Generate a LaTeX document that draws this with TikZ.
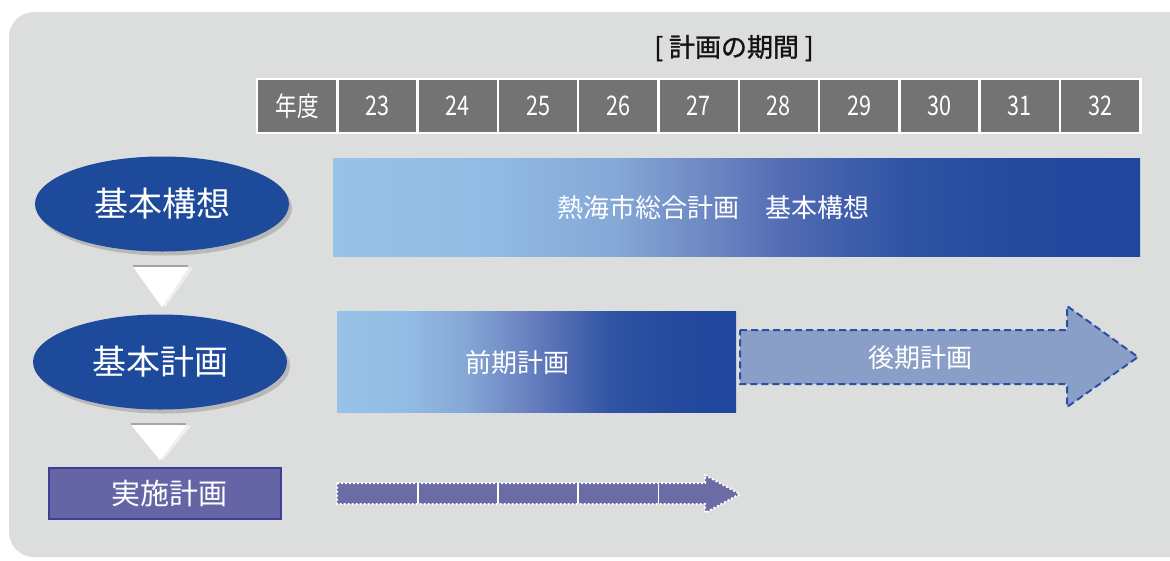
\documentclass[tikz,border=0pt]{standalone}
\usepackage{fontspec}
\setmainfont{Noto Sans CJK JP}
\newfontfamily\narrowfont[FakeStretch=0.8]{Noto Sans CJK JP}
\newfontfamily\titlefont[FakeBold=1.2]{Noto Sans CJK JP}
\usetikzlibrary{shapes.geometric, positioning, calc, shadows}

\definecolor{bgGray}{HTML}{DCDEDD}
\definecolor{cellGray}{HTML}{737373}
\definecolor{titleInk}{HTML}{141414}
\definecolor{ovalBlue}{HTML}{1E4A9C}
\definecolor{triLine}{HTML}{A3A5A4}
\definecolor{triShade}{HTML}{EEEFEF}
\definecolor{lateFill}{HTML}{8A9FC8}
\definecolor{lateLine}{HTML}{2B50A3}
\definecolor{implFill}{HTML}{6565A6}
\definecolor{implLine}{HTML}{3E3E94}
\definecolor{dotFill}{HTML}{6B6BA6}
\definecolor{shA}{HTML}{98C2E8}
\definecolor{shB}{HTML}{93BCE4}
\definecolor{shC}{HTML}{85A8D6}
\definecolor{shD}{HTML}{6C85C2}
\definecolor{shE}{HTML}{4F69B2}
\definecolor{shF}{HTML}{3155A4}
\definecolor{shG}{HTML}{24499D}
\definecolor{shH}{HTML}{1F479D}

% stops between 25bp and 75bp are the ones that land on the bar
\pgfdeclarehorizontalshading{conceptShade}{100bp}{color(0bp)=(shA); color(25bp)=(shA);
  color(34bp)=(shB); color(42.5bp)=(shC); color(48.5bp)=(shD); color(53.5bp)=(shE);
  color(60bp)=(shF); color(67.5bp)=(shG); color(75bp)=(shH); color(100bp)=(shH)}
\pgfdeclarehorizontalshading{earlyShade}{100bp}{color(0bp)=(shA); color(25bp)=(shA);
  color(33.5bp)=(shB); color(41bp)=(shC); color(48bp)=(shD); color(54bp)=(shE);
  color(59bp)=(shF); color(67.5bp)=(shG); color(75bp)=(shH); color(100bp)=(shH)}

\begin{document}
\begin{tikzpicture}[x=1pt, y=-1pt,
    yearcell/.style={draw=white, line width=2.5pt, fill=cellGray, text=white,
      minimum width=80.3pt, minimum height=54pt, inner sep=0pt, outer sep=0pt,
      font=\narrowfont\fontsize{27}{27}\selectfont},
    planoval/.style={ellipse, fill=ovalBlue, text=white, minimum width=254pt,
      minimum height=95pt, inner sep=0pt,
      font=\fontsize{34}{34}\selectfont,
      drop shadow={shadow xshift=3pt, shadow yshift=-4pt, fill=black!50, opacity=0.4}},
    implbox/.style={draw=implLine, line width=1.5pt, fill=implFill, text=white,
      minimum width=232pt, minimum height=51pt, inner sep=0pt,
      font=\fontsize{29}{29}\selectfont},
    planbar/.style={inner sep=0pt, outer sep=0pt},
    barlabel/.style={text=white, inner sep=0pt, font=\fontsize{26}{26}\selectfont}]
  \useasboundingbox (0,0) rectangle (1170,560);
  % Panel
  \fill[bgGray, rounded corners=25pt] (9,12) rectangle (1210,557);

  % Title
  \node[text=titleInk, font=\titlefont\fontsize{26}{26}\selectfont] (title) at (734,48) {[ 計画の期間 ]};

  % Year table
  \node[yearcell] (c0) at (297.15,106) {年度};
  \foreach \yr [count=\i] in {23,...,32}
    \node[yearcell] (c\i) at ({297.15+80.3*\i},106) {\yr};

  % Stages
  \node[planoval] (concept) at (162,204) {基本構想};
  \node[planoval] (basic) at (160,362) {基本計画};
  \node[implbox] (impl) at (165,493.5) {\hspace{9pt}実施計画};

  % Down triangles
  \foreach \a/\b in {concept/basic, basic/impl} {
    \coordinate (top) at ($(\a.south)+(0,14)$);
    \path (\b.north) ++(0,-7) coordinate (tipy);
    \coordinate (tip) at (top |- tipy);
    \fill[triShade] ($(top)+(-24,2)$) -- ($(top)+(31,2)$) -- ($(tip)+(3,0)$) -- cycle;
    \fill[white] ($(top)+(-29,1)$) -- ($(top)+(27,1)$) -- (tip) -- cycle;
    \draw[triLine, line width=2pt] ($(top)+(-29,0)$) -- ($(top)+(26,0)$);
  }

  % Basic concept bar
  \node[planbar, shading=conceptShade, minimum width=807pt, minimum height=98pt] (conceptBar) at (736.5,207) {};
  \node[barlabel] (conceptLbl) at ($(conceptBar.center)+(-23,1)$) {熱海市総合計画　基本構想};

  % Early plan bar
  \node[planbar, shading=earlyShade, minimum width=399pt, minimum height=101pt] (earlyBar) at (536.5,361.5) {};
  \node[barlabel] (earlyLbl) at ($(earlyBar.center)+(-19,1)$) {前期計画};

  % Late plan arrow
  \draw[lateLine, fill=lateFill, line width=2pt, dash pattern=on 7pt off 4pt]
    (740,330) -- (1067,330) -- (1067,306) -- (1138,357) -- (1067,407) -- (1067,384) -- (740,384) -- cycle;
  \node[barlabel] (lateLbl) at (920,358) {後期計画};

  % Implementation arrow
  \coordinate (implTop) at (0,483);
  \coordinate (implBot) at (0,504);
  \fill[dotFill] (337,483) -- (705,483) -- (705,475) -- (740,494) -- (705,513) -- (705,504) -- (337,504) -- cycle;
  \foreach \i in {1,...,4}
    \draw[white, line width=1.8pt] (c\i.east |- implTop) -- (c\i.east |- implBot);
  \draw[white, line width=2pt, dash pattern=on 2pt off 2pt]
    (337,483) -- (705,483) -- (705,475) -- (740,494) -- (705,513) -- (705,504) -- (337,504) -- cycle;
\end{tikzpicture}
\end{document}
